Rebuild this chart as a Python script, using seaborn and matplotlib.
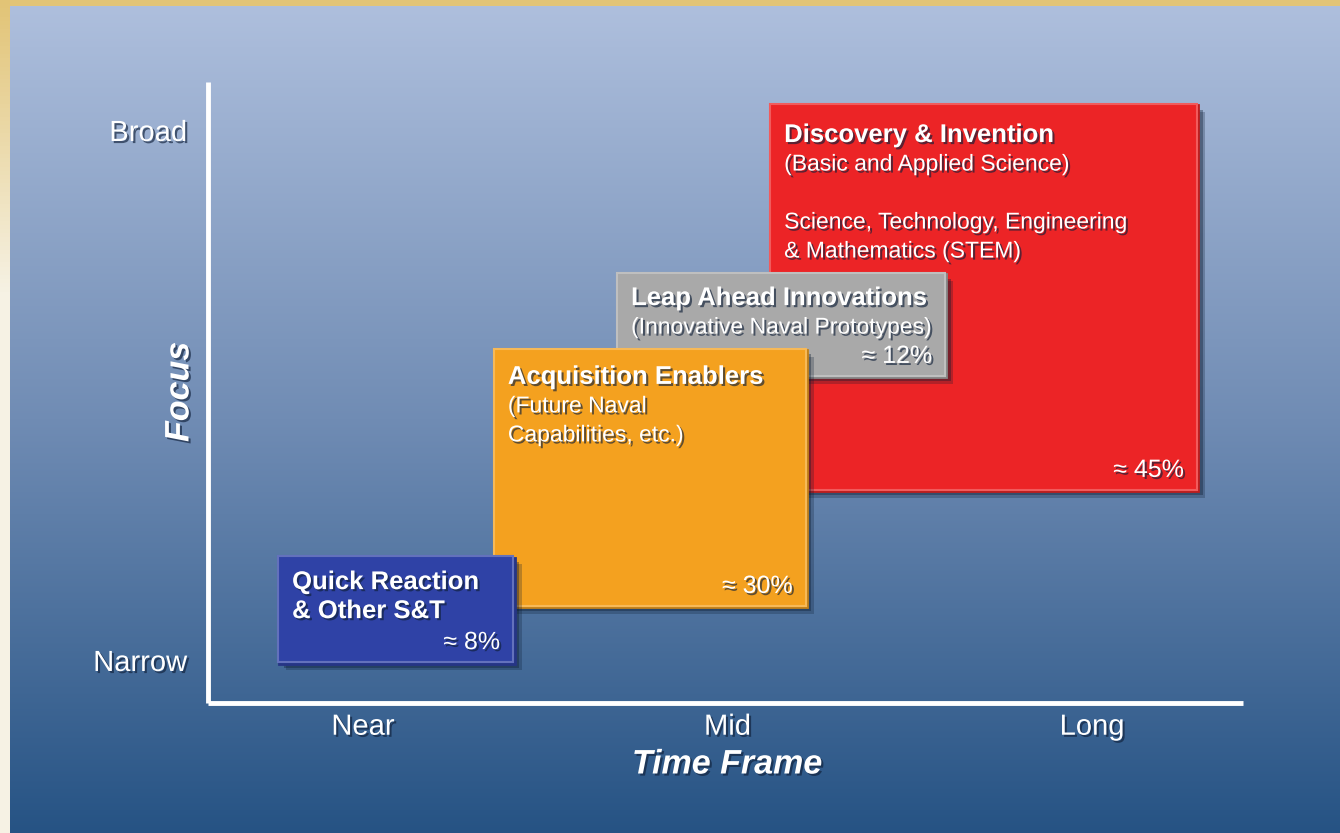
import numpy as np
import matplotlib
matplotlib.use("Agg")
import matplotlib.pyplot as plt
import matplotlib.patheffects as pe
from matplotlib.colors import to_rgb
import seaborn as sns

# S&T portfolio: each block spans a time-frame range (x) and a focus range (y)
block_titles = [["Discovery & Invention"], ["Leap Ahead Innovations"],
                ["Acquisition Enablers"], ["Quick Reaction", "& Other S&T"]]
block_notes = [["(Basic and Applied Science)", "", "Science, Technology, Engineering",
                "& Mathematics (STEM)"],
               ["(Innovative Naval Prototypes)"],
               ["(Future Naval", "Capabilities, etc.)"],
               []]
share_pct = [45, 12, 30, 8]
time_start = [2.117, 1.697, 1.359, 0.767]
time_end = [3.288, 2.597, 2.215, 1.412]
focus_low = [1.321, 1.536, 1.102, 0.996]
focus_high = [2.049, 1.730, 1.587, 1.196]
block_colors = ["#ec2426", "#a9a9a9", "#f4a11f", "#2f42a6"]

time_ticks = [1, 2, 3]
time_labels = ["Near", "Mid", "Long"]
focus_ticks = [1, 2]
focus_labels = ["Narrow", "Broad"]

# drop (pixels) from each block's top edge to its first text line
title_drop = [31, 25, 28, 26]

sns.set_theme(style="white")
plt.rcParams["font.family"] = ["Liberation Sans", "DejaVu Sans"]

W, H = 1340, 833
fig = plt.figure(figsize=(W / 100, H / 100), dpi=100)

# frame behind the blue panel
frame_ax = fig.add_axes([0, 0, 1, 1])
t = np.linspace(0, 1, 200)[:, None]
gold = np.array([226, 196, 118]) / 255
cream = np.array([246, 242, 228]) / 255
mix = np.clip(t / 0.35, 0, 1)
frame = gold * (1 - mix[..., None]) + cream * mix[..., None]
frame_ax.imshow(frame, aspect="auto", extent=[0, 1, 0, 1])
frame_ax.set_axis_off()

# blue gradient panel
panel_ax = fig.add_axes([10 / W, 0, (W - 10) / W, (H - 6) / H])
stops_y = [0.0, 0.5, 1.0]
stops_c = np.array([[174, 191, 221], [112, 140, 180], [38, 83, 132]]) / 255
ty = np.linspace(0, 1, 400)
grad = np.stack([np.interp(ty, stops_y, stops_c[:, k]) for k in range(3)], axis=-1)[:, None, :]
panel_ax.imshow(grad, aspect="auto", extent=[0, 1, 0, 1])
panel_ax.set_axis_off()

# main chart axes
x0, x1, y_top, y_bot = 208, 1243, 82, 703
ax = fig.add_axes([x0 / W, (H - y_bot) / H, (x1 - x0) / W, (y_bot - y_top) / H])
ax.patch.set_alpha(0)
ax.set_xlim((x0 - 363) / 364.5 + 1, (x1 - 363) / 364.5 + 1)
ax.set_ylim(1 - (y_bot - 660) / 530, 2 + (130 - y_top) / 530)

for side in ["top", "right"]:
    ax.spines[side].set_visible(False)
for side in ["left", "bottom"]:
    ax.spines[side].set_color("white")
    ax.spines[side].set_linewidth(3.5)
    ax.spines[side].set_capstyle("butt")

text_shadow = [pe.withSimplePatchShadow(offset=(1.5, -1.5), shadow_rgbFace="#10203a", alpha=0.65)]

ax.set_xticks(time_ticks)
ax.set_xticklabels(time_labels)
ax.set_yticks(focus_ticks)
ax.set_yticklabels(focus_labels)
ax.tick_params(axis="both", length=0, colors="white", labelsize=21)
ax.tick_params(axis="x", pad=7)
ax.tick_params(axis="y", pad=15)
for lab in ax.get_xticklabels() + ax.get_yticklabels():
    lab.set_path_effects(text_shadow)
ax.grid(False)

ax.set_xlabel("Time Frame", fontsize=24.5, fontweight="bold", fontstyle="italic",
              color="white", path_effects=text_shadow)
ax.xaxis.set_label_coords((727 - x0) / (x1 - x0), (y_bot - 765) / (y_bot - y_top))
ax.xaxis.label.set_va("center")
ax.set_ylabel("Focus", fontsize=24.5, fontweight="bold", fontstyle="italic",
              color="white", path_effects=text_shadow)
ax.yaxis.set_label_coords((180 - x0) / (x1 - x0), (y_bot - 392) / (y_bot - y_top))
ax.yaxis.label.set_va("center")


def lighten(c, f):
    r = np.array(to_rgb(c))
    return tuple(r + (1 - r) * f)


def darken(c, f):
    r = np.array(to_rgb(c))
    return tuple(r * (1 - f))


line_step = 29
for i in range(len(share_pct)):
    z = 2 + i
    left, right = time_start[i], time_end[i]
    low, high = focus_low[i], focus_high[i]
    bars = ax.bar(left, high - low, width=right - left, bottom=low, align="edge",
                  color=block_colors[i], edgecolor=lighten(block_colors[i], 0.25),
                  linewidth=1.5, zorder=z)
    for b in bars:
        b.set_path_effects([
            pe.SimplePatchShadow(offset=(6, -6), shadow_rgbFace="#0b1a30", alpha=0.25),
            pe.SimplePatchShadow(offset=(4, -4), shadow_rgbFace="#0b1a30", alpha=0.35),
            pe.Stroke(offset=(1, -1), linewidth=2, foreground=darken(block_colors[i], 0.2)),
            pe.Normal(),
        ])
    lines = [(s, "bold", 18.5) for s in block_titles[i]] + [(s, "normal", 16.5) for s in block_notes[i]]
    for k, (s, weight, size) in enumerate(lines):
        if not s:
            continue
        ax.annotate(s, xy=(left, high), xytext=(14, -title_drop[i] - k * line_step),
                    textcoords="offset pixels", ha="left", va="center",
                    fontsize=size, fontweight=weight, color="white",
                    path_effects=text_shadow, zorder=z + 0.5)
    ax.annotate(f"\u2248 {share_pct[i]}%", xy=(right, low), xytext=(-13, 20),
                textcoords="offset pixels", ha="right", va="center",
                fontsize=18, color="white", path_effects=text_shadow, zorder=z + 0.5)

fig.savefig("out.png", dpi=100)
